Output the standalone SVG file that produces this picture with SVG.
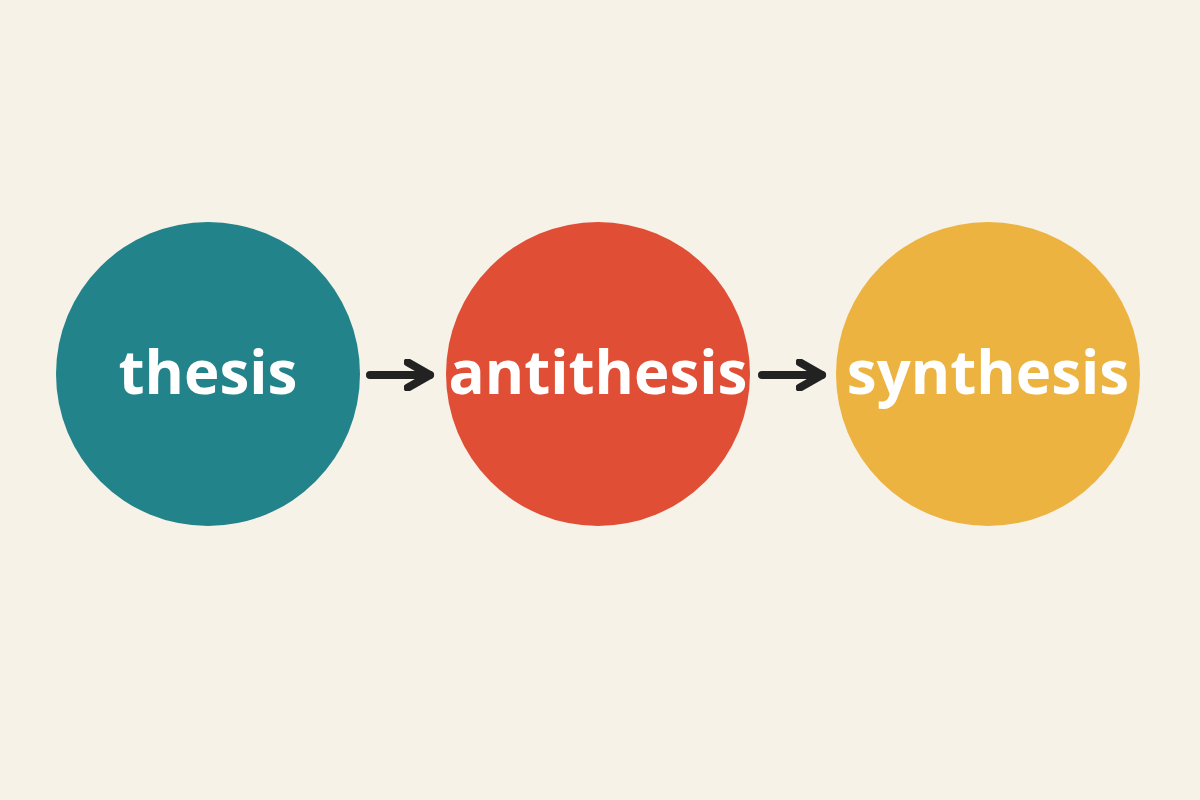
<svg xmlns="http://www.w3.org/2000/svg" width="1200" height="800" viewBox="0 0 1200 800">
<style>
.lbl{font-family:"Open Sans","Noto Sans",sans-serif;font-weight:bold;font-size:60px;fill:#fff;text-anchor:middle}
.c{stroke:#222;stroke-width:8;fill:none;stroke-linecap:round}
</style>
<defs><marker id="ah" viewBox="0 0 10 10" refX="8" refY="5" markerWidth="4" markerHeight="4" orient="auto"><path d="M1,1 L8,5 L1,9" fill="none" stroke="#222" stroke-width="2.5" stroke-linecap="round" stroke-linejoin="round"/></marker></defs>
<rect width="1200" height="800" fill="#F6F2E8"/>
<g id="thesis"><circle cx="208" cy="374" r="152" fill="#23838A"/><text class="lbl" x="208" y="394">thesis</text></g>
<g id="antithesis"><circle cx="598" cy="374" r="152" fill="#E04E35"/><text class="lbl" x="598" y="394">antithesis</text></g>
<g id="synthesis"><circle cx="988" cy="374" r="152" fill="#ECB340"/><text class="lbl" x="988" y="394">synthesis</text></g>
<g id="connectors">
<path class="c" d="M370,375 L430,375" marker-end="url(#ah)"/>
<path class="c" d="M762,375 L822,375" marker-end="url(#ah)"/>
</g>
</svg>
